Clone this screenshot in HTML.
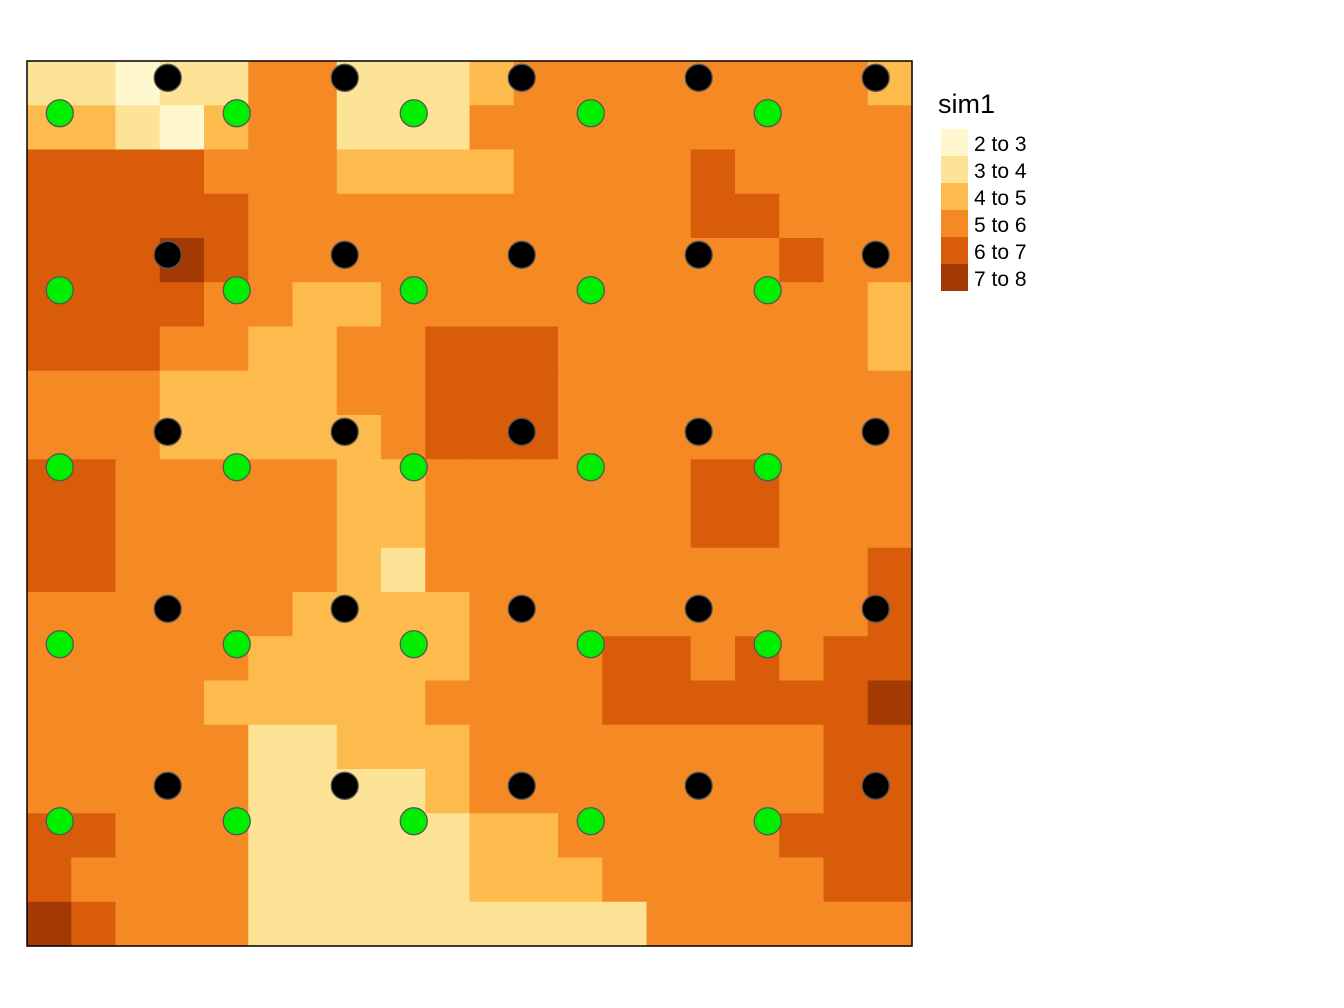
<!DOCTYPE html>
<html><head><meta charset="utf-8"><style>
html,body{margin:0;padding:0;background:#fff;}
svg{display:block;font-family:"Liberation Sans",Arial,sans-serif;}
</style></head><body>
<svg id="chart" width="1344" height="1008" viewBox="0 0 1344 1008">
<g id="cells"></g>
<rect x="27" y="61" width="885" height="885" fill="none" stroke="#000" stroke-width="1.5"/>
<g id="pts"></g>
<g id="legend">
<text x="938" y="113" font-size="27" fill="#000">sim1</text>
</g>
</svg>
<script>
const classLabels=["2 to 3","3 to 4","4 to 5","5 to 6","6 to 7","7 to 8"];
const classColors=["#FFF7CD","#FDE396","#FDBB4D","#F58A24","#D95C0B","#A33A03"];
const gridRows=[
"11011331112333333332",
"22102331113333333333",
"44443332222333343333",
"44444333333333344333",
"44454333333333333433",
"44443322333333333332",
"44433223344433333332",
"33322223344433333333",
"33322222344433333333",
"44333332233333344333",
"44333332233333344333",
"44333332133333333334",
"33333322223333333334",
"33333222223334434344",
"33332222233334444445",
"33333112223333333344",
"33333111123333333344",
"44333111112233333444",
"43333111112223333344",
"54333111111111333333"];
const blackX=[15.9,35.9,55.9,75.9,95.9], blackY=[98.1,78.1,58.1,38.1,18.1];
const greenX=[3.7,23.7,43.7,63.7,83.7], greenY=[94.1,74.1,54.1,34.1,14.1];
const X0=27,Y0=61,W=885,H=885;
const NS="http://www.w3.org/2000/svg";
const nr=gridRows.length,nc=gridRows[0].length;
const cw=W/nc,ch=H/nr;
const cells=document.getElementById('cells');
for(let r=0;r<nr;r++)for(let c=0;c<nc;c++){
 const e=document.createElementNS(NS,'rect');
 e.setAttribute('x',X0+c*cw);e.setAttribute('y',Y0+r*ch);
 e.setAttribute('width',cw+0.6);e.setAttribute('height',ch+0.6);
 e.setAttribute('fill',classColors[+gridRows[r][c]]);
 
 
 cells.appendChild(e);
}
const px=v=>X0+v*W/100, py=v=>Y0+H-v*H/100;
const pts=document.getElementById('pts');
function dot(x,y,col,name){
 const e=document.createElementNS(NS,'circle');
 e.setAttribute('cx',x);e.setAttribute('cy',y);e.setAttribute('r',13.5);
 e.setAttribute('fill',col);e.setAttribute('stroke','#555');e.setAttribute('stroke-width','1.3');
 
 
 pts.appendChild(e);
}
blackY.forEach(y=>blackX.forEach(x=>dot(px(x),py(y),'#000','black-point')));
greenY.forEach(y=>greenX.forEach(x=>dot(px(x),py(y),'#00EE00','green-point')));
const lg=document.getElementById('legend');
classLabels.forEach((l,i)=>{
 const r=document.createElementNS(NS,'rect');
 r.setAttribute('x',941);r.setAttribute('y',129+i*27);r.setAttribute('width',27);r.setAttribute('height',27);
 r.setAttribute('fill',classColors[i]);
 
 
 lg.appendChild(r);
 const t=document.createElementNS(NS,'text');
 t.setAttribute('x',974);t.setAttribute('y',151+i*27);t.setAttribute('font-size','21');
 t.textContent=l;
 
 
 lg.appendChild(t);
});
</script>
</body></html>
